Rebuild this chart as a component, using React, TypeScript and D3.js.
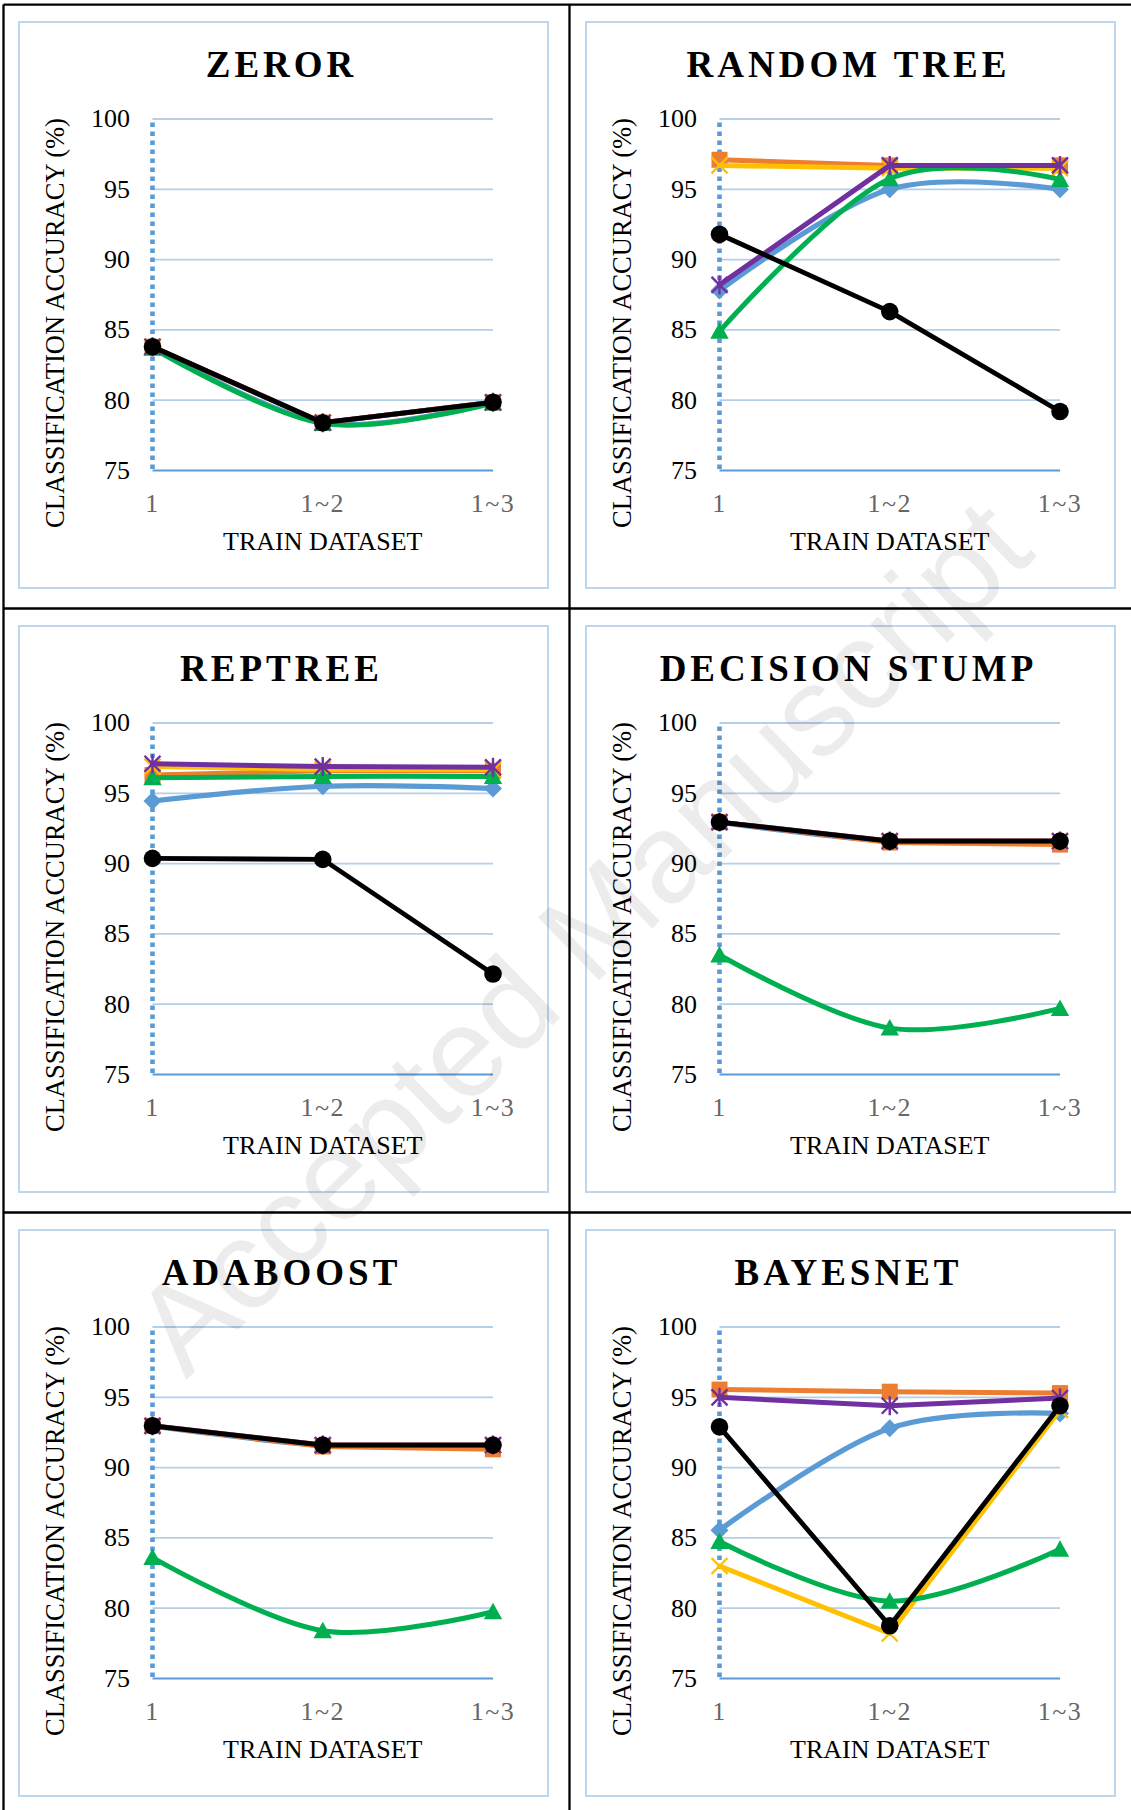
import React from 'react';
import * as d3 from 'd3';

// ---------- data ----------
const categories = ['1', '1~2', '1~3'];
const yTicks = [75, 80, 85, 90, 95, 100];
const chartTitles = ['ZEROR', 'RANDOM TREE', 'REPTREE', 'DECISION STUMP', 'ADABOOST', 'BAYESNET'];

// series order: blue diamond, orange square, yellow x, green triangle, purple star, black circle
const zerorBlue = [83.8, 78.4, 79.85];
const zerorOrange = [83.8, 78.4, 79.85];
const zerorYellow = [83.8, 78.4, 79.85];
const zerorGreen = [83.7, 78.35, 79.8];
const zerorPurple = [83.8, 78.4, 79.85];
const zerorBlack = [83.8, 78.4, 79.85];

const randomTreeBlue = [87.8, 95.0, 95.0];
const randomTreeOrange = [97.1, 96.7, 96.7];
const randomTreeYellow = [96.7, 96.5, 96.5];
const randomTreeGreen = [84.9, 95.75, 95.7];
const randomTreePurple = [88.2, 96.7, 96.7];
const randomTreeBlack = [91.8, 86.3, 79.2];

const repTreeBlue = [94.45, 95.5, 95.35];
const repTreeOrange = [96.3, 96.6, 96.6];
const repTreeYellow = [96.9, 96.7, 96.7];
const repTreeGreen = [96.1, 96.2, 96.2];
const repTreePurple = [97.1, 96.9, 96.85];
const repTreeBlack = [90.37, 90.3, 82.15];

const stumpBlue = [92.95, 91.6, 91.6];
const stumpOrange = [92.95, 91.5, 91.35];
const stumpYellow = [92.95, 91.6, 91.6];
const stumpGreen = [83.5, 78.3, 79.7];
const stumpPurple = [92.95, 91.6, 91.6];
const stumpBlack = [92.95, 91.6, 91.6];

const adaBlue = [92.97, 91.6, 91.6];
const adaOrange = [92.97, 91.5, 91.3];
const adaYellow = [92.97, 91.6, 91.6];
const adaGreen = [83.6, 78.4, 79.75];
const adaPurple = [92.97, 91.6, 91.6];
const adaBlack = [92.97, 91.6, 91.6];

const bayesBlue = [85.55, 92.8, 93.85];
const bayesOrange = [95.55, 95.4, 95.3];
const bayesYellow = [83.0, 78.2, 94.1];
const bayesGreen = [84.75, 80.5, 84.2];
const bayesPurple = [95.0, 94.4, 94.95];
const bayesBlack = [92.9, 78.75, 94.4];

const chartSeries = [
  [zerorBlue, zerorOrange, zerorYellow, zerorGreen, zerorPurple, zerorBlack],
  [randomTreeBlue, randomTreeOrange, randomTreeYellow, randomTreeGreen, randomTreePurple, randomTreeBlack],
  [repTreeBlue, repTreeOrange, repTreeYellow, repTreeGreen, repTreePurple, repTreeBlack],
  [stumpBlue, stumpOrange, stumpYellow, stumpGreen, stumpPurple, stumpBlack],
  [adaBlue, adaOrange, adaYellow, adaGreen, adaPurple, adaBlack],
  [bayesBlue, bayesOrange, bayesYellow, bayesGreen, bayesPurple, bayesBlack],
];

// ---------- styles ----------
const seriesColors = ['#5B9BD5', '#ED7D31', '#FFC000', '#00B050', '#7030A0', '#000000'];
const seriesMarkers = ['diamond', 'square', 'x', 'triangle', 'star', 'circle'];
const seriesSmooth = [true, false, false, true, false, false];
const seriesWidth = [5.2, 5, 5, 5, 5, 4.8];

const SERIF = "'Liberation Serif', 'Times New Roman', serif";
const COL_W = 567;
const ROW_H = 604;
const PLOT_L = 152.5;
const PLOT_R = 493;
const PLOT_T = 119;
const PLOT_B = 470.5;

function Marker({ kind, color }: { kind: string; color: string }) {
  switch (kind) {
    case 'diamond':
      return <path d="M0,-9L9,0L0,9L-9,0Z" fill={color} />;
    case 'square':
      return <rect x={-8} y={-8} width={16} height={16} fill={color} />;
    case 'triangle':
      return <path d="M0,-9L9.2,7.5L-9.2,7.5Z" fill={color} />;
    case 'circle':
      return <circle r={8.8} fill={color} />;
    case 'x':
      return <path d="M-8,-8L8,8M-8,8L8,-8" stroke={color} strokeWidth={2.4} fill="none" />;
    case 'star':
      return (
        <path d="M-8,-8L8,8M-8,8L8,-8M0,-9.5L0,9.5" stroke={color} strokeWidth={2.4} fill="none" />
      );
    default:
      return null;
  }
}

function Chart({ index }: { index: number }) {
  const col = index % 2;
  const row = Math.floor(index / 2);
  const dx = col * COL_W;
  const dy = row * ROW_H;
  const x = d3.scalePoint<string>().domain(categories).range([PLOT_L, PLOT_R]);
  const y = d3.scaleLinear().domain([75, 100]).range([PLOT_B, PLOT_T]);
  const series = chartSeries[index];
  const cx = (PLOT_L + PLOT_R) / 2;

  return (
    <g transform={`translate(${dx},${dy})`}>
      <rect x={19} y={22} width={529} height={566} fill="none" stroke="#BDD7EE" strokeWidth={2} />
      {yTicks.map((t) =>
        t === 75 ? null : (
          <line key={t} x1={PLOT_L} x2={PLOT_R} y1={y(t)} y2={y(t)} stroke="#B4CFEA" strokeWidth={1.8} />
        )
      )}
      <line x1={PLOT_L} x2={PLOT_R} y1={y(75)} y2={y(75)} stroke="#5B9BD5" strokeWidth={2.2} />
      <line
        x1={PLOT_L}
        x2={PLOT_L}
        y1={y(100) + 3.5}
        y2={y(75)}
        stroke="#5B9BD5"
        strokeWidth={4.6}
        strokeDasharray="4.6 4.4"
      />
      {series.map((vals, si) => {
        const line = d3
          .line<number>()
          .x((_, i) => x(categories[i]) as number)
          .y((d) => y(d))
          .curve(seriesSmooth[si] ? d3.curveCardinal.tension(0) : d3.curveLinear);
        return (
          <g key={si}>
            <path
              d={line(vals) || ''}
              fill="none"
              stroke={seriesColors[si]}
              strokeWidth={seriesWidth[si]}
              strokeLinejoin="round"
              strokeLinecap="round"
            />
            {vals.map((v, i) => (
              <g key={i} transform={`translate(${x(categories[i])},${y(v)})`}>
                <Marker kind={seriesMarkers[si]} color={seriesColors[si]} />
              </g>
            ))}
          </g>
        );
      })}
      {yTicks.map((t) => (
        <text
          key={t}
          x={130}
          y={y(t) + 8.3}
          textAnchor="end"
          fontFamily={SERIF}
          fontSize={26}
          fill="#000"
        >
          {t}
        </text>
      ))}
      {categories.map((c) => (
        <text
          key={c}
          x={x(c)}
          y={511.5}
          textAnchor="middle"
          fontFamily={SERIF}
          fontSize={26}
          letterSpacing={1.5}
          fill="#666666"
        >
          {c}
        </text>
      ))}
      <text x={cx} y={550} textAnchor="middle" fontFamily={SERIF} fontSize={26} fill="#000">
        TRAIN DATASET
      </text>
      <text
        transform={`translate(63.5,323) rotate(-90)`}
        textAnchor="middle"
        fontFamily={SERIF}
        fontSize={26.5}
        fill="#000"
      >
        CLASSIFICATION ACCURACY (%)
      </text>
      <text
        x={281.5}
        y={77}
        textAnchor="middle"
        fontFamily={SERIF}
        fontWeight="bold"
        fontSize={37}
        letterSpacing={4}
        fill="#000"
      >
        {chartTitles[index]}
      </text>
    </g>
  );
}

export default function App() {
  const W = 1131;
  const H = 1810;
  return (
    <svg
      width={W}
      height={H}
      viewBox={`0 0 ${W} ${H}`}
      style={{ position: 'absolute', left: 0, top: 0, background: '#fff' }}
    >
      <rect x={0} y={0} width={W} height={H} fill="#fff" />
      {/* table borders */}
      <g stroke="#000" strokeWidth={2.3}>
        <line x1={3.5} x2={W} y1={4.6} y2={4.6} />
        <line x1={3.5} x2={3.5} y1={4.6} y2={H} />
        <line x1={569.5} x2={569.5} y1={4.6} y2={H} />
        <line x1={3.5} x2={W} y1={608.5} y2={608.5} />
        <line x1={3.5} x2={W} y1={1212.5} y2={1212.5} />
      </g>
      {chartTitles.map((_, i) => (
        <Chart key={i} index={i} />
      ))}
      {/* watermark */}
      <text
        transform="translate(580,935) rotate(-44.1)"
        textAnchor="middle"
        dy="0.36em"
        fontFamily="'Liberation Sans', Arial, sans-serif"
        fontSize={127}
        fill="#000"
        fillOpacity={0.075}
      >
        Accepted Manuscript
      </text>
    </svg>
  );
}
